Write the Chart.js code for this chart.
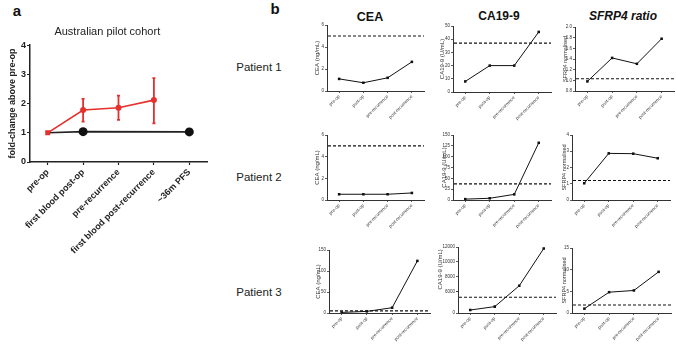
<!DOCTYPE html>
<html><head><meta charset="utf-8">
<script src="https://cdn.jsdelivr.net/npm/chart.js@4.4.1/dist/chart.umd.min.js"></script>
<style>
html,body{margin:0;padding:0;background:#fff;}
body{width:676px;height:347px;position:relative;overflow:hidden;font-family:"Liberation Sans",Arial,sans-serif;}
canvas{position:absolute;}
.t{position:absolute;transform:translate(-50%,-50%);white-space:nowrap;color:#111;}
</style></head><body>
<div class="t" style="left:17px;top:10px;font-weight:bold;font-size:15px">a</div>
<div class="t" style="left:275px;top:8px;font-weight:bold;font-size:15px">b</div>
<div class="t" style="left:370px;top:17px;font-weight:bold;font-size:12.5px">CEA</div>
<div class="t" style="left:499px;top:16px;font-weight:bold;font-size:12px">CA19-9</div>
<div class="t" style="left:623px;top:16px;font-weight:bold;font-style:italic;font-size:12px">SFRP4 ratio</div>
<div class="t" style="left:259px;top:67px;font-size:11.5px;color:#222">Patient 1</div>
<div class="t" style="left:259px;top:177px;font-size:11.5px;color:#222">Patient 2</div>
<div class="t" style="left:259px;top:292px;font-size:11.5px;color:#222">Patient 3</div>
<script>
// ---------- Panel a data ----------
const aCategories = ['pre-op', 'first blood post-op', 'pre-recurrence', 'first blood post-recurrence', '~36m PFS'];
const aRecurrence = [1.0, 1.78, 1.86, 2.12, null];
const aRecurrenceLow = [null, 1.38, 1.44, 1.32, null];
const aRecurrenceHigh = [null, 2.16, 2.27, 2.87, null];
const aNoRecurrence = [1.0, 1.04, null, null, 1.03];
const aNoRecurrenceLow = [null, 0.99, null, null, 0.95];
const aNoRecurrenceHigh = [null, 1.09, null, null, 1.11];
const aYTicks = [0, 1, 2, 3, 4];

// ---------- Panel b data ----------
const bCategories = ['pre-op', 'post-op', 'pre-recurrence', 'post-recurrence'];
const ceaP1 = [1.1, 0.75, 1.2, 2.65];
const ceaP2 = [0.53, 0.53, 0.53, 0.65];
const ceaP3 = [1.4, 3.8, 12.6, 124];
const ca199P1 = [8, 20, 20, 45.5];
const ca199P2 = [2, 4, 13, 132];
const ca199P3 = [7, 15, 6800, 11800];
const sfrp4P1 = [0.98, 1.42, 1.31, 1.78];
const sfrp4P2 = [1.03, 2.87, 2.85, 2.57];
const sfrp4P3 = [1.0, 4.8, 5.2, 9.5];
const ceaCutoff = 5;
const ca199Cutoff = 37;
const sfrp4Cutoffs = [1.03, 1.2, 1.85];
const ceaTicksSmall = [0, 6, 2];     // min, max, step
const ceaTicksLarge = [0, 150, 50];
const ca199TicksP1 = [0, 50, 10];
const ca199TicksP2 = [0, 150, 25];
const ca199P3Lower = [0, 50];
const ca199P3Upper = [6000, 12000, 1000];
const sfrp4TicksP1 = [0.8, 2.0, 0.2];
const sfrp4TicksP2 = [0, 4, 1];
const sfrp4TicksP3 = [0, 15, 5];

const FF = "'Liberation Sans', Arial, Helvetica, sans-serif";
Chart.defaults.font.family = FF;

const hlinePlugin = {
  id: 'hline',
  afterDatasetsDraw(chart, args, opts) {
    if (opts.value == null) return;
    const s = chart.scales[opts.scaleID || 'y'];
    const y = s.getPixelForValue(opts.value);
    const {left, right} = chart.chartArea;
    const ctx = chart.ctx;
    ctx.save(); ctx.setLineDash([3, 2]); ctx.lineWidth = 1.2; ctx.strokeStyle = '#111';
    ctx.beginPath(); ctx.moveTo(left + 1, y); ctx.lineTo(right, y); ctx.stroke(); ctx.restore();
  }
};
const bridgePlugin = {
  id: 'bridge',
  beforeDatasetsDraw(chart, args, opts) {
    if (!opts.from) return;
    const a = chart.getDatasetMeta(opts.from[0]).data[opts.from[1]];
    const b = chart.getDatasetMeta(opts.to[0]).data[opts.to[1]];
    const ctx = chart.ctx;
    ctx.save(); ctx.lineWidth = 1; ctx.strokeStyle = '#111';
    ctx.beginPath(); ctx.moveTo(a.x, a.y); ctx.lineTo(b.x, b.y); ctx.stroke(); ctx.restore();
  }
};
const errPlugin = {
  id: 'errbars',
  beforeDatasetsDraw(chart) {
    const ctx = chart.ctx;
    chart.data.datasets.forEach((ds, di) => {
      if (!ds.errLow) return;
      const meta = chart.getDatasetMeta(di);
      const ys = chart.scales[meta.yAxisID];
      meta.data.forEach((pt, i) => {
        const lo = ds.errLow[i], hi = ds.errHigh[i];
        if (lo == null || hi == null) return;
        const y1 = ys.getPixelForValue(lo), y2 = ys.getPixelForValue(hi);
        ctx.save(); ctx.strokeStyle = ds.errColor; ctx.lineWidth = ds.errWidth;
        ctx.beginPath(); ctx.moveTo(pt.x, y1); ctx.lineTo(pt.x, y2);
        ctx.moveTo(pt.x - 1.5, y1); ctx.lineTo(pt.x + 1.5, y1);
        ctx.moveTo(pt.x - 1.5, y2); ctx.lineTo(pt.x + 1.5, y2);
        ctx.stroke(); ctx.restore();
      });
    });
  }
};

function addCanvas(x, y, w, h) {
  const cv = document.createElement('canvas');
  cv.width = w; cv.height = h;
  cv.style.left = x + 'px'; cv.style.top = y + 'px';
  document.body.appendChild(cv);
  return cv;
}

// ---------- Panel a ----------
(function () {
  const cx = 0, cy = 0, cw = 246, ch = 347;
  const area = {l: 30, t: 45, r: 207, b: 162};
  const titleX = 13, lh = 9 * 1.2;
  const scaleLeft = titleX - lh / 2;
  const cv = addCanvas(cx, cy, cw, ch);
  new Chart(cv, {
    type: 'line',
    data: {
      labels: aCategories,
      datasets: [
        {label: 'recurrence', data: aRecurrence, errLow: aRecurrenceLow, errHigh: aRecurrenceHigh,
         errColor: '#e5302e', errWidth: 1.8,
         borderColor: '#e5302e', backgroundColor: '#e5302e', pointBackgroundColor: '#e5302e', borderWidth: 1.6,
         pointStyle: ['rect', 'circle', 'circle', 'circle', 'circle'], pointRadius: [3.5, 3, 3, 3, 3], pointBorderWidth: 0},
        {label: 'no recurrence', data: aNoRecurrence, errLow: aNoRecurrenceLow, errHigh: aNoRecurrenceHigh,
         errColor: '#111', errWidth: 1.6, spanGaps: true,
         borderColor: '#222', backgroundColor: '#111', pointBackgroundColor: '#111', borderWidth: 1.6,
         pointRadius: [0, 4.5, 0, 0, 4.5], pointBorderWidth: 0}
      ]
    },
    options: {
      responsive: false, animation: false,
      layout: {padding: {left: scaleLeft - cx, top: 0, right: cx + cw - area.r, bottom: 0}},
      plugins: {
        legend: {display: false}, tooltip: {enabled: false},
        title: {display: true, text: 'Australian pilot cohort', color: '#222',
                font: {size: 11, weight: 'normal', family: FF}, padding: {top: 25, bottom: 7}}
      },
      scales: {
        x: {
          offset: true,
          grid: {display: true, drawOnChartArea: false, drawTicks: true, tickLength: 3, tickWidth: 1.2, tickColor: '#222'},
          border: {display: true, color: '#222', width: 1.5},
          ticks: {font: {size: 9, weight: 'bold', family: FF}, color: '#222', minRotation: 45, maxRotation: 45, autoSkip: false, padding: 2},
          afterFit: s => { s.height = cy + ch - area.b; }
        },
        y: {
          min: aYTicks[0], max: aYTicks[aYTicks.length - 1],
          afterBuildTicks: s => { s.ticks = aYTicks.map(v => ({value: v})); },
          grid: {display: true, drawOnChartArea: false, drawTicks: true, tickLength: 3, tickWidth: 1.2, tickColor: '#222'},
          border: {display: true, color: '#222', width: 1.5},
          ticks: {font: {size: 9, weight: 'bold', family: FF}, color: '#222', padding: 1},
          title: {display: true, text: 'fold-change above pre-op', color: '#222',
                  font: {size: 9, weight: 'bold', family: FF}, padding: {top: 0, bottom: 0}},
          afterFit: s => { s.width = area.l - scaleLeft; }
        }
      }
    },
    plugins: [errPlugin]
  });
})();

// ---------- Panel b ----------
const rows = [{top: 15, bottom: 125}, {top: 125, bottom: 236}, {top: 238, bottom: 347}];

function tickFmt(step) {
  return v => step < 1 ? Number(v).toFixed(1) : String(v);
}

function axisCommon() {
  return {
    grid: {display: true, drawOnChartArea: false, drawTicks: true, tickLength: 2, tickWidth: 0.8, tickColor: '#333'},
    border: {display: true, color: '#333', width: 1}
  };
}

function lineDs(data, yID) {
  return {data: data, yAxisID: yID || 'y', borderColor: '#111', backgroundColor: '#111', pointBackgroundColor: '#111',
          borderWidth: 1, pointStyle: 'rect', pointRadius: 1.8, pointBorderWidth: 0};
}

function xScale(xHeight) {
  return Object.assign(axisCommon(), {
    offset: true,
    ticks: {font: {size: 4.5, family: FF}, color: '#333', minRotation: 45, maxRotation: 45, autoSkip: false, padding: 1},
    afterFit: s => { s.height = xHeight; }
  });
}

function yScale(range, titleText, titleSize, yWidth, extra) {
  const o = Object.assign(axisCommon(), {
    min: range[0], max: range[1],
    ticks: {font: {size: 4.5, family: FF}, color: '#333', padding: 1, stepSize: range[2], callback: tickFmt(range[2])},
    title: {display: !!titleText, text: titleText, color: '#333', font: {size: titleSize, family: FF}, padding: {top: 0, bottom: 0}},
    afterFit: s => { s.width = yWidth; }
  });
  return Object.assign(o, extra || {});
}

function makeB(spec) {
  const row = rows[spec.row];
  const area = spec.area;
  const lh = spec.titleSize * 1.2;
  const scaleLeft = spec.titleX - lh / 2;
  const cx = Math.floor(scaleLeft) - 4;
  const cw = area.r + 6 - cx;
  const ch = row.bottom - row.top;
  const cv = addCanvas(cx, row.top, cw, ch);
  const yWidth = area.l - scaleLeft;
  const xHeight = row.bottom - area.b;
  const scales = {x: xScale(xHeight)};
  let datasets, hline, bridge = {};
  if (spec.broken) {
    const brk = ca199P3Lower[1];
    scales.yLow = yScale([ca199P3Lower[0], ca199P3Lower[1], ca199P3Lower[1]], '', spec.titleSize, yWidth,
                         {stack: 'ca', stackWeight: 1, position: 'left'});
    scales.yLow.ticks.callback = v => (v === 0 ? '0' : '');
    scales.yHigh = yScale(ca199P3Upper, spec.yTitle, spec.titleSize, yWidth,
                          {stack: 'ca', stackWeight: 2.1, position: 'left'});
    datasets = [lineDs(spec.data.map(v => (v <= brk ? v : null)), 'yLow'),
                lineDs(spec.data.map(v => (v > brk ? v : null)), 'yHigh')];
    hline = {value: spec.cutoff, scaleID: 'yLow'};
    const lastLow = spec.data.map(v => v <= brk).lastIndexOf(true);
    bridge = {from: [0, lastLow], to: [1, lastLow + 1]};
  } else {
    scales.y = yScale(spec.range, spec.yTitle, spec.titleSize, yWidth);
    datasets = [lineDs(spec.data)];
    hline = {value: spec.cutoff, scaleID: 'y'};
  }
  new Chart(cv, {
    type: 'line',
    data: {labels: bCategories, datasets: datasets},
    options: {
      responsive: false, animation: false,
      layout: {padding: {left: scaleLeft - cx, top: area.t - row.top, right: cx + cw - area.r, bottom: 0}},
      plugins: {legend: {display: false}, tooltip: {enabled: false}, hline: hline, bridge: bridge},
      scales: scales
    },
    plugins: [hlinePlugin, bridgePlugin]
  });
}

// Row 1
makeB({row: 0, area: {l: 327, t: 25, r: 424, b: 91}, titleX: 317, titleSize: 6, yTitle: 'CEA (ng/mL)', range: ceaTicksSmall, data: ceaP1, cutoff: ceaCutoff});
makeB({row: 0, area: {l: 453, t: 26, r: 551, b: 92}, titleX: 442, titleSize: 6, yTitle: 'CA19-9 (U/mL)', range: ca199TicksP1, data: ca199P1, cutoff: ca199Cutoff});
makeB({row: 0, area: {l: 575, t: 27, r: 674, b: 91}, titleX: 565, titleSize: 5.5, yTitle: 'SFRP4 normalised', range: sfrp4TicksP1, data: sfrp4P1, cutoff: sfrp4Cutoffs[0]});
// Row 2
makeB({row: 1, area: {l: 327, t: 135, r: 424, b: 200}, titleX: 317, titleSize: 6, yTitle: 'CEA (ng/mL)', range: ceaTicksSmall, data: ceaP2, cutoff: ceaCutoff});
makeB({row: 1, area: {l: 453, t: 135, r: 551, b: 200}, titleX: 444, titleSize: 6, yTitle: 'CA19-9 (U/mL)', range: ca199TicksP2, data: ca199P2, cutoff: ca199Cutoff});
makeB({row: 1, area: {l: 572, t: 135, r: 670, b: 200}, titleX: 564, titleSize: 5.5, yTitle: 'SFRP4 normalised', range: sfrp4TicksP2, data: sfrp4P2, cutoff: sfrp4Cutoffs[1]});
// Row 3
makeB({row: 2, area: {l: 329, t: 250, r: 430, b: 313}, titleX: 318, titleSize: 6, yTitle: 'CEA (ng/mL)', range: ceaTicksLarge, data: ceaP3, cutoff: ceaCutoff});
makeB({row: 2, area: {l: 458, t: 247, r: 556, b: 313}, titleX: 440, titleSize: 6, yTitle: 'CA19-9 (U/mL)', broken: true, data: ca199P3, cutoff: ca199Cutoff});
makeB({row: 2, area: {l: 572, t: 248, r: 671, b: 313}, titleX: 564, titleSize: 5.5, yTitle: 'SFRP4 normalised', range: sfrp4TicksP3, data: sfrp4P3, cutoff: sfrp4Cutoffs[2]});
</script>
</body></html>
